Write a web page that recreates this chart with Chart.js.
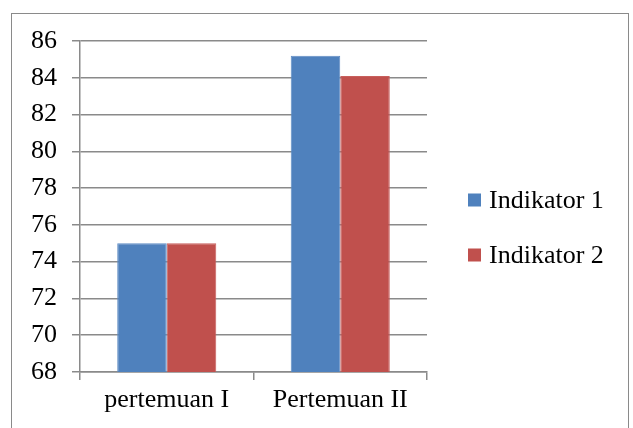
<!DOCTYPE html>
<html>
<head>
<meta charset="utf-8">
<script src="https://cdn.jsdelivr.net/npm/chart.js@4/dist/chart.umd.min.js"></script>
<style>
  html, body { margin: 0; padding: 0; background: #fff; overflow: hidden; }
  #wrap { position: relative; width: 633px; height: 428px; }
  #frame { position: absolute; left: 11px; top: 13px; width: 618px; height: 500px;
           border: 1.5px solid #8a8a8a; box-sizing: border-box; pointer-events: none; }
  canvas { position: absolute; left: 0; top: 0; }
</style>
</head>
<body>
<div id="wrap">
  <canvas id="chart" width="633" height="428"></canvas>
  <div id="frame"></div>
</div>
<script>
// Categories and series
const categories = ['pertemuan I', 'Pertemuan II'];
const indikator1 = [75, 85.2];
const indikator2 = [75, 84.1];
const seriesNames = ['Indikator 1', 'Indikator 2'];
const seriesColors = ['#4F81BD', '#C0504D'];

// Value axis range
const yMin = 68;
const yMax = 86;
const yStep = 2;

const FONT = "'Liberation Serif', 'Times New Roman', serif";
const FONT_SIZE = 26;
const GRID = '#8a8a8a';

// Legend drawn on the right, beside the plot
const sideLegend = {
  id: 'sideLegend',
  afterDraw(chart) {
    const ctx = chart.ctx;
    ctx.save();
    ctx.font = FONT_SIZE + 'px ' + FONT;
    ctx.textBaseline = 'middle';
    ctx.textAlign = 'left';
    chart.data.datasets.forEach((ds, i) => {
      const cy = 200 + i * 55;
      ctx.fillStyle = ds.backgroundColor;
      ctx.fillRect(468, cy - 6.5, 13, 13);
      ctx.fillStyle = '#000';
      ctx.fillText(ds.label, 489, cy + 1);
    });
    ctx.restore();
  }
};

new Chart(document.getElementById('chart'), {
  type: 'bar',
  data: {
    labels: categories,
    datasets: [
      { label: seriesNames[0], data: indikator1, backgroundColor: seriesColors[0],
        borderColor: '#5f8cc4', borderWidth: 1 },
      { label: seriesNames[1], data: indikator2, backgroundColor: seriesColors[1],
        borderColor: '#c85f5c', borderWidth: 1 }
    ]
  },
  options: {
    responsive: false,
    animation: false,
    devicePixelRatio: 1,
    layout: { padding: { left: 0, right: 206, top: 41, bottom: 0 } },
    datasets: { bar: { categoryPercentage: 0.571, barPercentage: 1 } },
    plugins: { legend: { display: false }, tooltip: { enabled: false } },
    scales: {
      x: {
        grid: { display: true, drawOnChartArea: false, drawTicks: true, tickLength: 8,
                offset: true, color: GRID, lineWidth: 1.5 },
        border: { display: true, color: GRID, width: 1.5 },
        ticks: { color: '#000', font: { family: FONT, size: FONT_SIZE }, padding: 5 },
        afterFit(scale) { scale.height = 56; }
      },
      y: {
        min: yMin,
        max: yMax,
        grid: { color: GRID, lineWidth: 1.5, tickLength: 8 },
        border: { display: true, color: GRID, width: 1.5 },
        ticks: { stepSize: yStep, color: '#000', font: { family: FONT, size: FONT_SIZE }, padding: 15 },
        afterFit(scale) { scale.width = 80; }
      }
    }
  },
  plugins: [sideLegend]
});
</script>
</body>
</html>
